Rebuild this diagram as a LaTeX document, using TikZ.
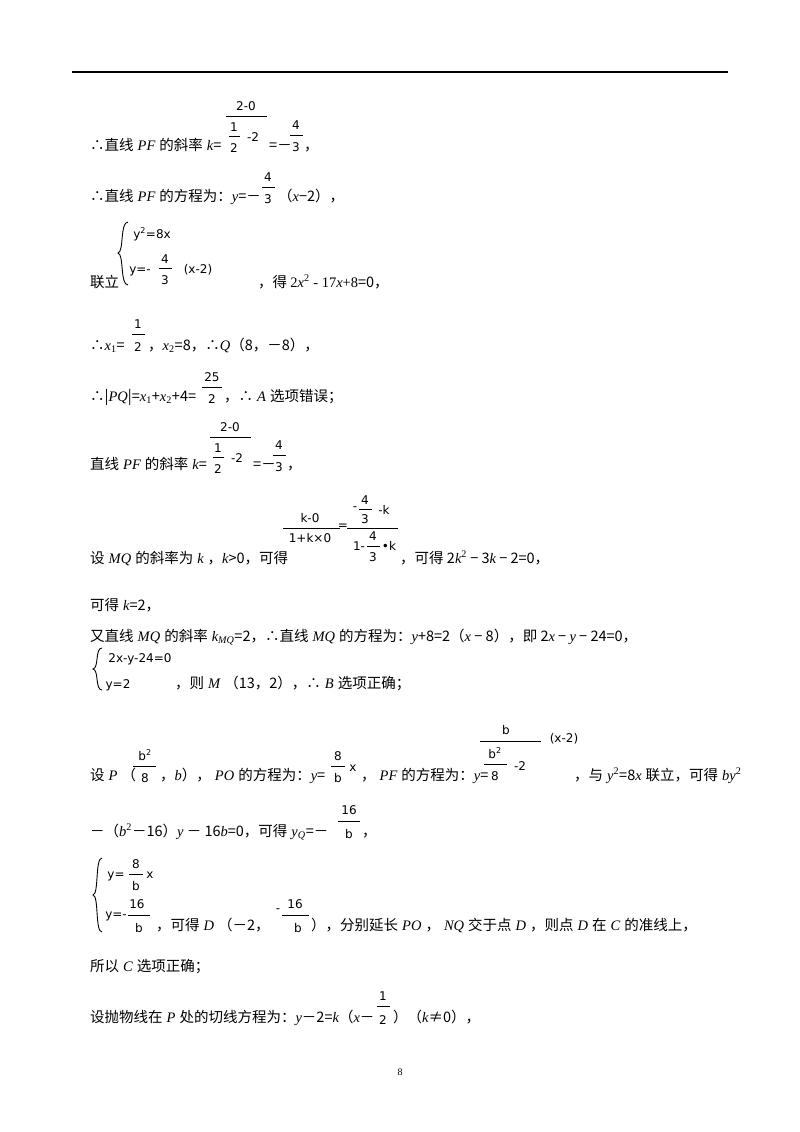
\documentclass[tikz,border=0pt]{standalone}
\usepackage{fontspec}
\setmainfont{Noto Sans CJK SC}
\newfontfamily\fr{DejaVu Sans}
\newfontfamily\tm{Liberation Serif}
\newcommand\T[3]{\node[txt] at (#1,-#2) {#3};}
\newcommand\F[3]{\node[frt] at (#1,-#2) {#3};}
\newcommand\B[3]{\draw[bar] (#1,-#3) -- (#2,-#3);}
\newcommand\I[1]{{\tm\itshape #1}}
\newcommand\J[1]{\hspace{4pt}{\tm\itshape #1}\hspace{4pt}}
\newcommand\R[1]{{\tm #1}}
\begin{document}
\begin{tikzpicture}[x=1pt,y=1pt,
  txt/.style={anchor=base west,inner sep=0pt,font=\fontsize{14.5}{16}\selectfont},
  frt/.style={anchor=base,inner sep=0pt,font=\fr\fontsize{12}{14}\selectfont},
  bar/.style={line width=0.9pt}]
\useasboundingbox (0,0) rectangle (800,-1132);
\draw[line width=1.2pt] (72,-72) -- (728,-72);
% 1
\T{90}{150}{∴直线\J{PF}的斜率\J{k}\hspace{-4pt}=}
\F{246}{110}{2-0}\B{226}{267}{116}
\F{234}{131}{1}\B{229}{240}{136}\F{234}{152}{2}\F{253}{141}{-2}
\T{269}{150}{=－}\F{296}{129}{4}\B{290}{303}{135}\F{296}{151}{3}\T{304}{150}{，}
% 2
\T{90}{201}{∴直线\J{PF}的方程为：\I{y}=－}\F{268}{181}{4}\B{262}{275}{187}\F{268}{203}{3}\T{278}{201}{（\I{x}−2），}
% 3
\draw[line width=0.9pt] (128,-222) .. controls (120,-222) and (124,-252) .. (118,-253) .. controls (124,-254) and (120,-285) .. (128,-285);
\F{152}{238}{y\textsuperscript{2}=8x}
\F{140}{273}{y=-}\F{165}{263}{4}\B{159}{172}{268}\F{165}{284}{3}\F{198}{273}{(x-2)}
\T{90}{287}{联立}\T{258}{287}{，得 \R{2}\I{x}\R{\textsuperscript{2}}\R{ - 17}\I{x}\R{+8}=0，}
% 4
\T{90}{350}{∴\I{x}\R{\textsubscript{1}}=}\F{138}{328}{1}\B{132}{145}{334}\F{138}{351}{2}\T{148}{350}{，\I{x}\R{\textsubscript{2}}=8，∴\I{Q}（8，－8），}
% 5
\T{90}{401}{∴|\I{PQ}|=\I{x}\R{\textsubscript{1}}+\I{x}\R{\textsubscript{2}}+4=}\F{212}{381}{25}\B{202}{222}{387}\F{212}{403}{2}\T{224}{401}{，∴\J{A}选项错误；}
% 6
\T{90}{469}{直线\J{PF}的斜率\J{k}\hspace{-4pt}=}
\F{230}{431}{2-0}\B{210}{251}{437}
\F{218}{452}{1}\B{213}{224}{457}\F{218}{473}{2}\F{237}{462}{-2}
\T{253}{469}{=－}\F{279}{449}{4}\B{273}{286}{455}\F{279}{471}{3}\T{287}{469}{，}
% 7
\T{90}{563}{设\J{MQ}的斜率为\J{k}，\I{k}>0，可得}
\F{310}{522}{k-0}\B{283}{340}{528}\F{310}{542}{1+k×0}
\F{343}{529}{=}
\F{355}{510}{-}\F{365}{504}{4}\B{359}{372}{509}\F{365}{523}{3}\F{384}{514}{-k}\B{347}{398}{528}
\F{359}{550}{1-}\F{373}{540}{4}\B{367}{380}{546}\F{373}{561}{3}\F{389}{550}{•k}
\T{400}{563}{，可得 2\I{k}\R{\textsuperscript{2}} − 3\I{k} − 2=0，}
% 8
\T{90}{610}{可得\J{k}\hspace{-4pt}=2，}
% 9
\T{90}{641}{又直线\J{MQ}的斜率\J{k}\hspace{-4pt}\R{\textsubscript{\itshape MQ}}=2，∴直线\J{MQ}的方程为：\I{y}+8=2（\I{x} − 8），即 2\I{x} − \I{y} − 24=0，}
% 10
\draw[line width=0.9pt] (102,-648) .. controls (95,-648) and (99,-668) .. (93,-669) .. controls (99,-670) and (95,-690) .. (102,-690);
\F{140}{662}{2x-y-24=0}\F{118}{688}{y=2}
\T{175}{688}{，则\J{M}（13，2），∴\J{B}选项正确；}
% 11
\T{90}{780}{设\J{P}（}\F{145}{760}{b\textsuperscript{2}}\B{133}{156}{766}\F{145}{782}{8}
\T{160}{780}{，\I{b}），\J{PO}的方程为：\I{y}=}\F{338}{760}{8}\B{331}{345}{766}\F{338}{782}{b}\F{353}{771}{x}
\T{361}{780}{，\J{PF}的方程为：\I{y}=}
\F{506}{734}{b}\B{480}{541}{741}\F{564}{742}{(x-2)}
\F{495}{758}{b\textsuperscript{2}}\B{484}{507}{764}\F{495}{780}{8}\F{520}{770}{-2}
\T{574}{780}{，与\J{y}\hspace{-4pt}\R{\textsuperscript{2}}=8\I{x}\hspace{4pt}联立，可得\J{by}\hspace{-4pt}\R{\textsuperscript{2}}}
% 12
\T{90}{836}{－（\I{b}\R{\textsuperscript{2}}－16）\I{y} － 16\I{b}=0，可得\J{y}\hspace{-4pt}\R{\textsubscript{\itshape Q}}=－}
\F{349}{814}{16}\B{338}{360}{821}\F{349}{838}{b}\T{362}{836}{，}
% 13
\draw[line width=0.9pt] (102,-858) .. controls (95,-858) and (99,-894) .. (93,-895) .. controls (99,-896) and (95,-932) .. (102,-932);
\F{116}{878}{y=}\F{136}{868}{8}\B{129}{143}{874}\F{136}{890}{b}\F{150}{878}{x}
\F{116}{918}{y=-}\F{137}{908}{16}\B{128}{150}{915}\F{139}{932}{b}
\T{156}{930}{，可得\J{D}（－2，}\F{278}{912}{-}\F{295}{908}{16}\B{282}{309}{915}\F{298}{932}{b}
\T{311}{930}{），分别延长\J{PO}，\J{NQ}交于点\J{D}，则点\J{D}在\J{C}的准线上，}
% 14
\T{90}{971}{所以\J{C}选项正确；}
% 15
\T{90}{1022}{设抛物线在\J{P}处的切线方程为：\I{y}－2=\I{k}（\I{x}－}\F{383}{1000}{1}\B{377}{390}{1006}\F{383}{1024}{2}\T{393}{1022}{）（\I{k}≠0），}
% 16
\node[frt,font=\tm\fontsize{10}{12}\selectfont] at (400,-1075) {8};
\end{tikzpicture}
\end{document}
